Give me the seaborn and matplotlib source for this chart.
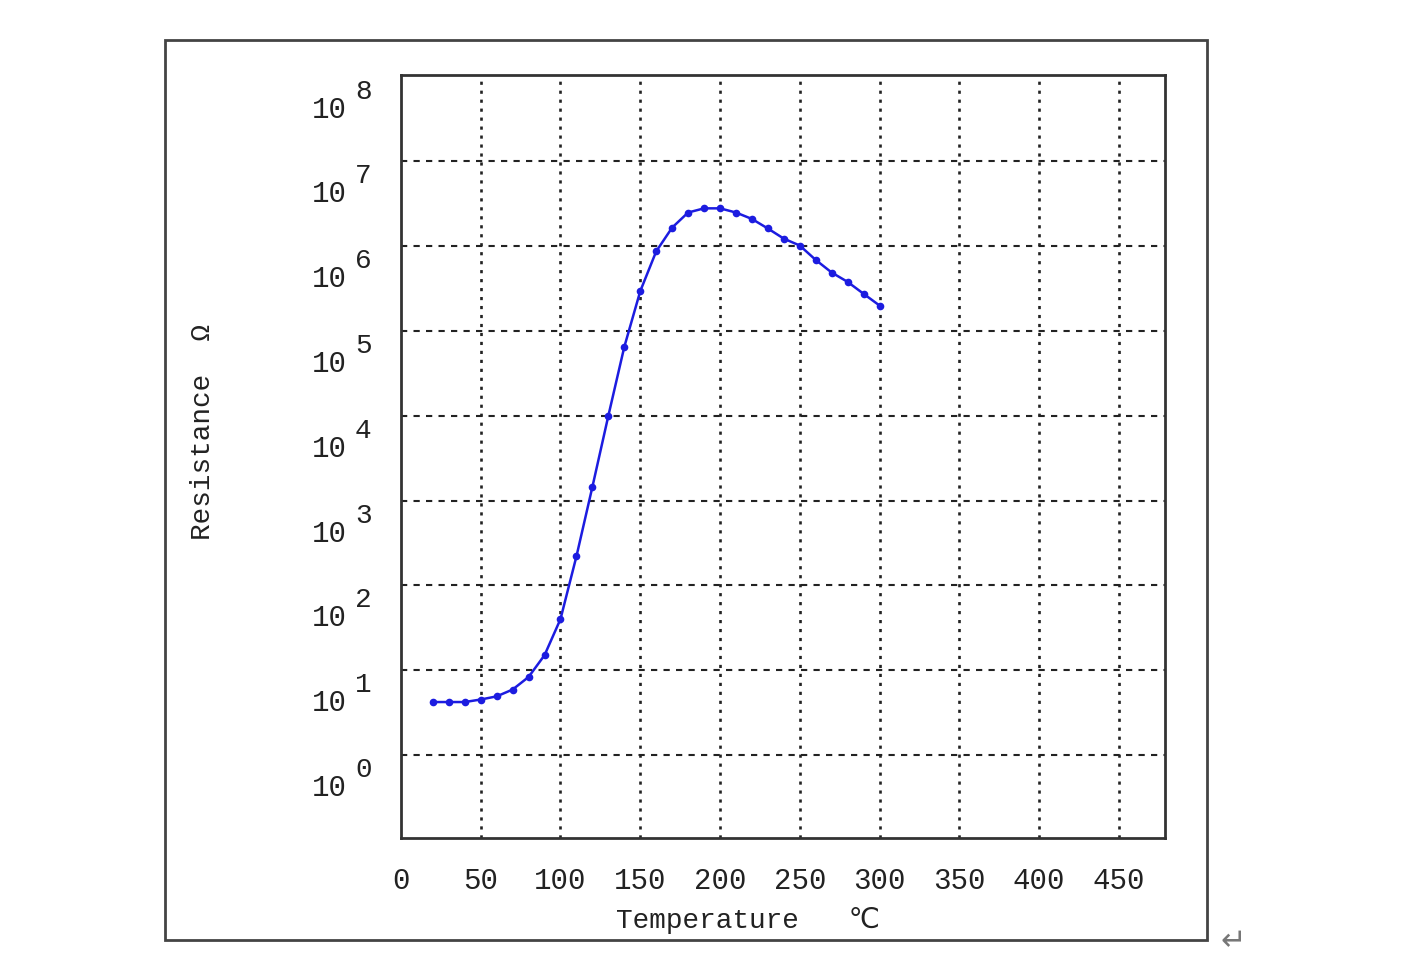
import matplotlib
matplotlib.use('Agg')
import numpy as np
import pandas as pd
import matplotlib.pyplot as plt
import matplotlib.transforms as mtransforms
from matplotlib.patches import Rectangle
import seaborn as sns

# data (temperature in C, resistance in ohm)
temperature = [20, 30, 40, 50, 60, 70, 80, 90, 100, 110, 120, 130, 140, 150, 160,
               170, 180, 190, 200, 210, 220, 230, 240, 250, 260, 270, 280, 290, 300]
resistance = [4.2, 4.2, 4.2, 4.5, 4.9, 5.9, 8.3, 15, 40, 220, 1450, 1.0e4, 6.5e4, 2.95e5, 8.7e5,
              1.66e6, 2.5e6, 2.8e6, 2.8e6, 2.5e6, 2.1e6, 1.62e6, 1.23e6, 1.02e6, 6.9e5, 4.9e5, 3.8e5, 2.75e5, 2.0e5]
x_ticks = [0, 50, 100, 150, 200, 250, 300, 350, 400, 450]
y_exponents = [0, 1, 2, 3, 4, 5, 6, 7, 8]

df = pd.DataFrame({'Temperature': temperature, 'Resistance': resistance})

sns.set_style('white')
plt.rcParams['font.family'] = ['Liberation Mono', 'DejaVu Sans']

fig = plt.figure(figsize=(14.05, 9.73), dpi=100)
ax = fig.add_axes([0.2854, 0.1388, 0.5438, 0.7841])

sns.lineplot(data=df, x='Temperature', y='Resistance', ax=ax, color='#1c1ce0',
             linewidth=1.8, marker='o', markersize=5.5, markeredgewidth=0)

ax.set_yscale('log')
ax.set_xlim(0, 479)
ax.set_ylim(10 ** -0.98, 10 ** 8.02)
ax.set_xticks(x_ticks)
ax.set_xticklabels([str(t) for t in x_ticks])
ax.set_yticks([10.0 ** e for e in y_exponents])
ax.set_yticklabels([])
ax.yaxis.set_minor_locator(matplotlib.ticker.NullLocator())
ax.tick_params(axis='both', length=0, labelsize=21, colors='#222222')
ax.tick_params(axis='x', pad=21)
ax.set_xlabel('')
ax.set_ylabel('')

# y labels "10" with a big exponent, sitting below their grid lines like the original
trans = mtransforms.blended_transform_factory(ax.transAxes, ax.transData)
base_off = mtransforms.ScaledTranslation(-0.545, -0.33, fig.dpi_scale_trans)
exp_off = mtransforms.ScaledTranslation(-0.46, -0.15, fig.dpi_scale_trans)
for e in y_exponents:
    ax.text(0, 10.0 ** e, '10', transform=trans + base_off, ha='right', va='center',
            fontsize=21, color='#222222', clip_on=False)
    ax.text(0, 10.0 ** e, str(e), transform=trans + exp_off, ha='left', va='center',
            fontsize=20, color='#222222', clip_on=False)

# grid: dotted verticals, dashed horizontals
for t in x_ticks[1:]:
    ax.axvline(t, color='#222222', linestyle=(0, (1.2, 2.2)), linewidth=1.9, zorder=0)
for e in y_exponents[:-1]:
    ax.axhline(10.0 ** e, color='#222222', linestyle=(0, (3, 3)), linewidth=1.5, zorder=0)

for s in ax.spines.values():
    s.set_color('#333333')
    s.set_linewidth(2)

fig.text(0.532, 0.0544, 'Temperature   ℃', fontsize=20, ha='center', va='center', color='#222222')
fig.text(0.1445, 0.556, 'Resistance  Ω', fontsize=20, ha='center', va='center',
         rotation=90, color='#222222')

# outer frame around the whole chart
fig.patches.append(Rectangle((0.1174, 0.0339), 0.7417, 0.925, transform=fig.transFigure,
                             fill=False, edgecolor='#444444', linewidth=2))
fig.text(0.8776, 0.0319, '↵', fontsize=22, ha='center', va='center', color='#777777',
         family='DejaVu Sans')

fig.savefig('out.png', dpi=100, facecolor='white')
